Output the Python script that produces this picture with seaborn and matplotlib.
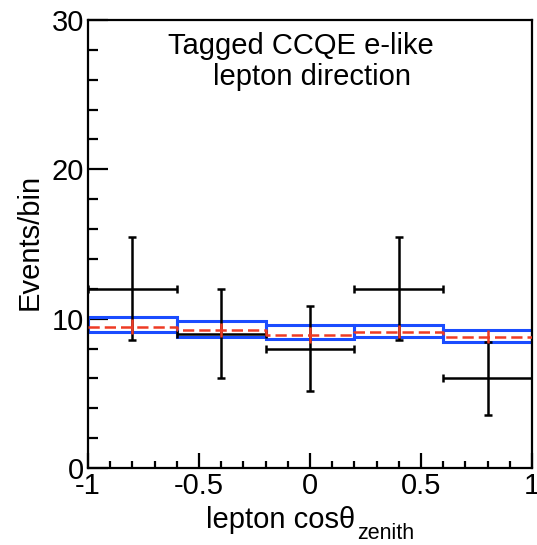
import numpy as np
import pandas as pd
import matplotlib
matplotlib.use("Agg")
import matplotlib.pyplot as plt
from matplotlib.ticker import MultipleLocator, FixedLocator
import seaborn as sns

# ---- data ----
bin_edges = [-1.0, -0.6, -0.2, 0.2, 0.6, 1.0]
bin_centers = [-0.8, -0.4, 0.0, 0.4, 0.8]
data_counts = [12, 9, 8, 12, 6]
data_err = [3.46, 3.0, 2.83, 3.46, 2.45]
band_upper = [10.13, 9.85, 9.58, 9.58, 9.24]
band_lower = [9.09, 8.80, 8.62, 8.75, 8.42]
pred = [9.46, 9.24, 8.91, 9.13, 8.80]
pred_err = [0.50, 0.50, 0.55, 0.45, 0.45]
xticks = [-1, -0.5, 0, 0.5, 1]
xtick_labels = ["-1", "-0.5", "0", "0.5", "1"]
yticks = [0, 10, 20, 30]
ytick_labels = ["0", "10", "20", "30"]

sns.set_theme(style="ticks")
plt.rcParams["font.family"] = ["Liberation Sans", "DejaVu Sans"]
plt.rcParams["axes.unicode_minus"] = False

W, H = 537, 545
fig = plt.figure(figsize=(W / 100, H / 100), dpi=100)
ax = fig.add_axes([88 / W, 1 - 468 / H, (532 - 88) / W, (468 - 20) / H])

blue = "#1a4cff"
red = "#ee3b24"

# blue uncertainty band (boxes per bin)
heights = [u - l for u, l in zip(band_upper, band_lower)]
ax.bar(bin_centers, heights, bottom=band_lower, width=0.4, fill=False,
       edgecolor=blue, linewidth=2.2, zorder=2)

# data points
ax.errorbar(bin_centers, data_counts, yerr=data_err, xerr=0.2, fmt="none",
            ecolor="black", elinewidth=1.8, capsize=3, capthick=1.8, zorder=3)

# red dashed prediction (steps)
df = pd.DataFrame({"x": bin_edges, "y": pred + [pred[-1]]})
sns.lineplot(data=df, x="x", y="y", ax=ax, drawstyle="steps-post", color=red,
             linewidth=1.8, linestyle=(0, (4.5, 2.0)), zorder=4)
ax.errorbar(bin_centers, pred, yerr=pred_err, fmt="none", ecolor=red,
            elinewidth=1.8, capsize=0, zorder=4)

ax.set_xlim(-1, 1)
ax.set_ylim(0, 30)
ax.set_xlabel("")
ax.set_ylabel("")

ax.xaxis.set_major_locator(FixedLocator(xticks))
ax.set_xticklabels(xtick_labels)
ax.xaxis.set_minor_locator(MultipleLocator(0.1))
ax.yaxis.set_major_locator(FixedLocator(yticks))
ax.set_yticklabels(ytick_labels)
ax.yaxis.set_minor_locator(MultipleLocator(2))

ax.tick_params(axis="both", which="both", direction="in", colors="black",
               top=False, right=False, width=1.6, labelsize=21, pad=3)
ax.tick_params(axis="x", which="major", length=10.8)
ax.tick_params(axis="x", which="minor", length=5)
ax.tick_params(axis="y", which="major", length=14.4)
ax.tick_params(axis="y", which="minor", length=7.2)
for s in ax.spines.values():
    s.set_visible(True)
    s.set_linewidth(1.6)
    s.set_color("black")

# texts
fig.text(301 / W, 1 - 54 / H, "Tagged CCQE e-like", ha="center", va="baseline",
         fontsize=21, color="black")
fig.text(312 / W, 1 - 85 / H, "lepton direction", ha="center", va="baseline",
         fontsize=21, color="black")
fig.text(206 / W, 1 - 528 / H, "lepton cosθ", ha="left",
         va="baseline", fontsize=21, color="black")
fig.text(357 / W, 1 - 539 / H, "zenith", ha="left",
         va="baseline", fontsize=15.5, color="black")
fig.text(30 / W, 1 - 242 / H, "Events/bin", ha="center", va="center",
         rotation=90, fontsize=21, color="black")

fig.savefig("out.png", dpi=100)
